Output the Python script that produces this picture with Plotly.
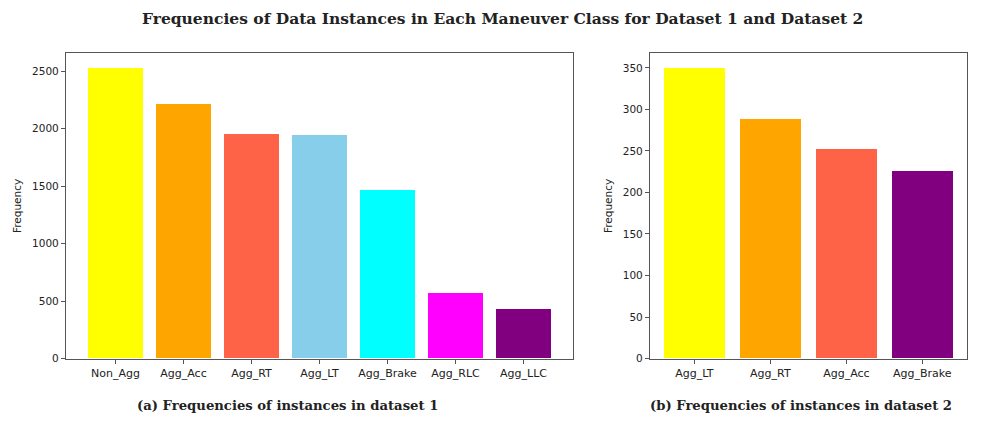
import plotly.graph_objects as go

cats1 = ["Non_Agg", "Agg_Acc", "Agg_RT", "Agg_LT", "Agg_Brake", "Agg_RLC", "Agg_LLC"]
vals1 = [2530, 2210, 1955, 1945, 1465, 570, 432]
cols1 = ["yellow", "orange", "tomato", "skyblue", "cyan", "magenta", "purple"]

cats2 = ["Agg_LT", "Agg_RT", "Agg_Acc", "Agg_Brake"]
vals2 = [350, 288, 252, 225]
cols2 = ["yellow", "orange", "tomato", "purple"]

# page body has an 8px default margin: figure drawn at (8, 8) in the window
OFF = 8
W, H = 1004 - 2 * OFF, 431 - 2 * OFF


def px(x):
    return (x - OFF) / W


def py(y):
    return 1 - (y - OFF) / H


fig = go.Figure()
fig.add_trace(go.Bar(x=list(range(len(cats1))), y=vals1, marker=dict(color=cols1, line=dict(width=0)),
                     width=0.8, xaxis="x", yaxis="y", showlegend=False))
fig.add_trace(go.Bar(x=list(range(len(cats2))), y=vals2, marker=dict(color=cols2, line=dict(width=0)),
                     width=0.8, xaxis="x2", yaxis="y2", showlegend=False))

ax = dict(showline=True, linecolor="#555", linewidth=1.2, mirror=True, showgrid=False, zeroline=False,
          ticks="outside", ticklen=4, tickcolor="#555", tickfont=dict(family="DejaVu Sans", size=10.5, color="#222"))
xax = dict(ax, tickfont=dict(family="DejaVu Sans", size=11, color="#222"))
ytitle = dict(family="DejaVu Sans", size=10.5, color="#222")
fig.update_layout(
    width=W, height=H, margin=dict(l=0, r=0, t=0, b=0),
    paper_bgcolor="white", plot_bgcolor="white", bargap=0,
    xaxis=dict(xax, domain=[px(66), px(573)], range=[-0.728, 6.728],
               tickvals=list(range(len(cats1))), ticktext=cats1),
    yaxis=dict(ax, domain=[py(363.7), py(54)], range=[0, max(vals1) * 1.05],
               tickvals=[0, 500, 1000, 1500, 2000, 2500],
               title=dict(text="Frequency", font=ytitle, standoff=8)),
    xaxis2=dict(xax, domain=[px(650), px(966.7)], range=[-0.584, 3.584],
                tickvals=list(range(len(cats2))), ticktext=cats2, anchor="y2"),
    yaxis2=dict(ax, domain=[py(363.7), py(54)], range=[0, max(vals2) * 1.05], anchor="x2",
                tickvals=[0, 50, 100, 150, 200, 250, 300, 350],
                title=dict(text="Frequency", font=ytitle, standoff=8)),
    annotations=[
        dict(text="<b>Frequencies of Data Instances in Each Maneuver Class for Dataset 1 and Dataset 2</b>",
             x=px(502), y=1, xref="paper", yref="paper", xanchor="center", yanchor="top",
             borderpad=0, showarrow=False, font=dict(family="DejaVu Serif", size=15.5, color="#222")),
        dict(text="<b>(a) Frequencies of instances in dataset 1</b>", x=px(287), y=py(411),
             xref="paper", yref="paper", xanchor="center", yanchor="middle",
             showarrow=False, font=dict(family="DejaVu Serif", size=13.2, color="#222")),
        dict(text="<b>(b) Frequencies of instances in dataset 2</b>", x=px(801), y=py(411),
             xref="paper", yref="paper", xanchor="center", yanchor="middle",
             showarrow=False, font=dict(family="DejaVu Serif", size=13.2, color="#222")),
    ],
)
fig.write_html("out.html")
